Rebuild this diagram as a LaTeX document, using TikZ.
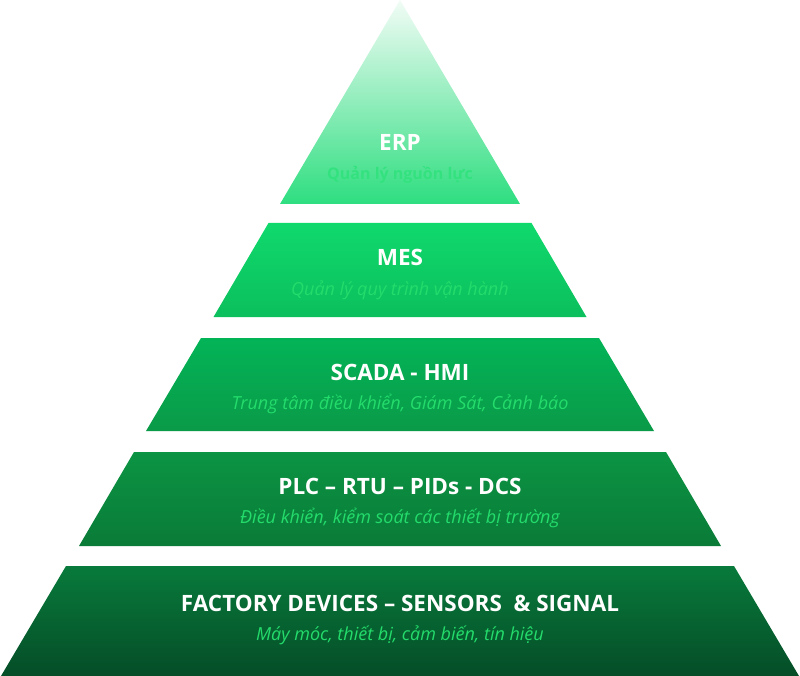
\documentclass[tikz,border=0pt]{standalone}
\usepackage{fontspec}
\setmainfont{Open Sans}
\definecolor{erpT}{HTML}{F2FCF6}
\definecolor{erpB}{HTML}{2EDE80}
\definecolor{mesT}{HTML}{10D96C}
\definecolor{mesB}{HTML}{0BBF5D}
\definecolor{scaT}{HTML}{03B457}
\definecolor{scaB}{HTML}{0A9A48}
\definecolor{plcT}{HTML}{0B9443}
\definecolor{plcB}{HTML}{0A7B38}
\definecolor{facT}{HTML}{087A3B}
\definecolor{facB}{HTML}{054D27}
\definecolor{subG}{HTML}{24DC6C}
\definecolor{subE}{HTML}{33E27F}
\tikzset{
  titletext/.style={text=white, font=\bfseries\fontsize{22.5}{26}\selectfont, inner sep=0pt},
  subtext/.style={text=subG, font=\itshape\fontsize{18}{21}\selectfont, inner sep=0pt},
}
\begin{document}
\begin{tikzpicture}[x=1pt,y=-1pt]
\useasboundingbox (0,0) rectangle (800,676);
% layers
\shade[top color=erpT, bottom color=erpB] (400,0) -- (520,204) -- (280,204) -- cycle;
\shade[top color=mesT, bottom color=mesB] (268.5,223) -- (531.5,223) -- (586.5,317) -- (213.5,317) -- cycle;
\shade[top color=scaT, bottom color=scaB] (201,338) -- (599,338) -- (654,431) -- (146,431) -- cycle;
\shade[top color=plcT, bottom color=plcB] (134,452) -- (666,452) -- (721,546) -- (79,546) -- cycle;
\shade[top color=facT, bottom color=facB] (66,566) -- (734,566) -- (799,676) -- (1,676) -- cycle;
% texts
\node[titletext] (erp) at (400,142) {ERP};
\node[subtext, text=subE, font=\bfseries\fontsize{16}{19}\selectfont] (erps) at (400,175) {Quản lý nguồn lực};
\node[titletext] (mes) at (400,257) {MES};
\node[subtext] (mess) at (400,290) {Quản lý quy trình vận hành};
\node[titletext] (sca) at (400,372) {SCADA - HMI};
\node[subtext] (scas) at (400,404) {Trung tâm điều khiển, Giám Sát, Cảnh báo};
\node[titletext] (plc) at (400,486) {PLC – RTU – PIDs - DCS};
\node[subtext] (plcs) at (400,518) {Điều khiển, kiểm soát các thiết bị trường};
\node[titletext] (fac) at (400,603) {FACTORY DEVICES – SENSORS \ \& SIGNAL};
\node[subtext] (facs) at (400,635) {Máy móc, thiết bị, cảm biến, tín hiệu};
\end{tikzpicture}
\end{document}
